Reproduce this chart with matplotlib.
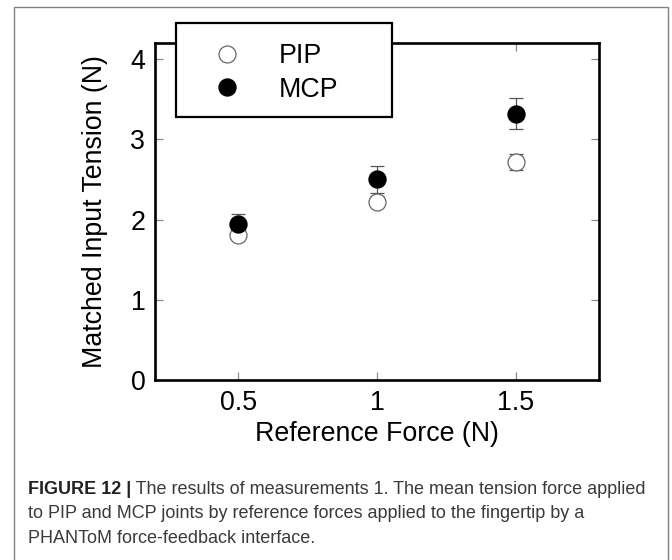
import numpy as np
import matplotlib
matplotlib.use('Agg')
import matplotlib.pyplot as plt
from matplotlib.patches import Rectangle

plt.rcParams['font.family'] = ['Liberation Sans', 'DejaVu Sans']

# Datos
force = [0.5, 1.0, 1.5]
pip_mean = [1.81, 2.22, 2.72]
pip_err = [0.06, 0.07, 0.10]
mcp_mean = [1.95, 2.50, 3.32]
mcp_err = [0.12, 0.17, 0.19]

x_ticks = [0.5, 1, 1.5]
x_tick_labels = ['0.5', '1', '1.5']
y_ticks = [0, 1, 2, 3, 4]

W, H = 672, 560
fig = plt.figure(figsize=(W / 100, H / 100), dpi=100)

# marco exterior gris
fig.patches.append(Rectangle((14 / W, -0.02), 654 / W, 1.02 - 7 / H,
                             transform=fig.transFigure, fill=False,
                             edgecolor='#808080', linewidth=1.0, zorder=0))

ax = fig.add_axes([155 / W, 1 - 380 / H, 444 / W, 337 / H])

fs = 19.3
ms = 12.2

ax.errorbar(force, pip_mean, yerr=pip_err, fmt='none', ecolor='#555555',
            elinewidth=0.9, capsize=5, capthick=0.9, zorder=2)
ax.errorbar(force, mcp_mean, yerr=mcp_err, fmt='none', ecolor='#555555',
            elinewidth=0.9, capsize=5, capthick=0.9, zorder=2)
pip_line, = ax.plot(force, pip_mean, 'o', markersize=ms, markerfacecolor='white',
                    markeredgecolor='#666666', markeredgewidth=0.9,
                    linestyle='none', label='PIP', zorder=3)
mcp_line, = ax.plot(force, mcp_mean, 'o', markersize=ms, markerfacecolor='black',
                    markeredgecolor='black', linestyle='none', label='MCP', zorder=4)

ax.set_xlim(0.2, 1.8)
ax.set_ylim(0, 4.2)
ax.set_xticks(x_ticks)
ax.set_xticklabels(x_tick_labels)
ax.set_yticks(y_ticks)
ax.tick_params(direction='in', length=5.5, width=0.9, color='#888888',
               top=True, right=True, labelsize=fs, pad=7)
for s in ax.spines.values():
    s.set_linewidth(1.9)
    s.set_color('black')

ax.set_xlabel('Reference Force (N)', fontsize=fs, labelpad=4)
ax.set_ylabel('Matched Input Tension (N)', fontsize=fs, labelpad=16)

# caja de la leyenda
fig.patches.append(Rectangle((176 / W, 1 - 117 / H), 216 / W, 94 / H,
                             transform=fig.transFigure, facecolor='white',
                             edgecolor='black', linewidth=1.6, zorder=3))
fig.legend(handles=[pip_line, mcp_line], loc='center left',
           bbox_to_anchor=(200 / W, 1 - 73 / H), bbox_transform=fig.transFigure,
           frameon=False, borderpad=0, handlelength=1.0, handletextpad=1.43,
           labelspacing=0.27, fontsize=fs)

# pie de figura
cfs = 13.0
t1 = fig.text(28 / W, 1 - 494 / H, 'FIGURE 12 |', fontsize=cfs, fontweight='bold',
              color='#222222', va='baseline', ha='left')
ax.annotate(' The results of measurements 1. The mean tension force applied',
            xy=(1, 0), xycoords=t1, va='bottom', ha='left',
            fontsize=cfs, color='#3a3a3a', annotation_clip=False)
fig.text(28 / W, 1 - 518 / H,
         'to PIP and MCP joints by reference forces applied to the fingertip by a',
         fontsize=cfs, color='#3a3a3a', va='baseline', ha='left')
fig.text(28 / W, 1 - 543 / H, 'PHANToM force-feedback interface.',
         fontsize=cfs, color='#3a3a3a', va='baseline', ha='left')

fig.savefig('out.png', dpi=100)
